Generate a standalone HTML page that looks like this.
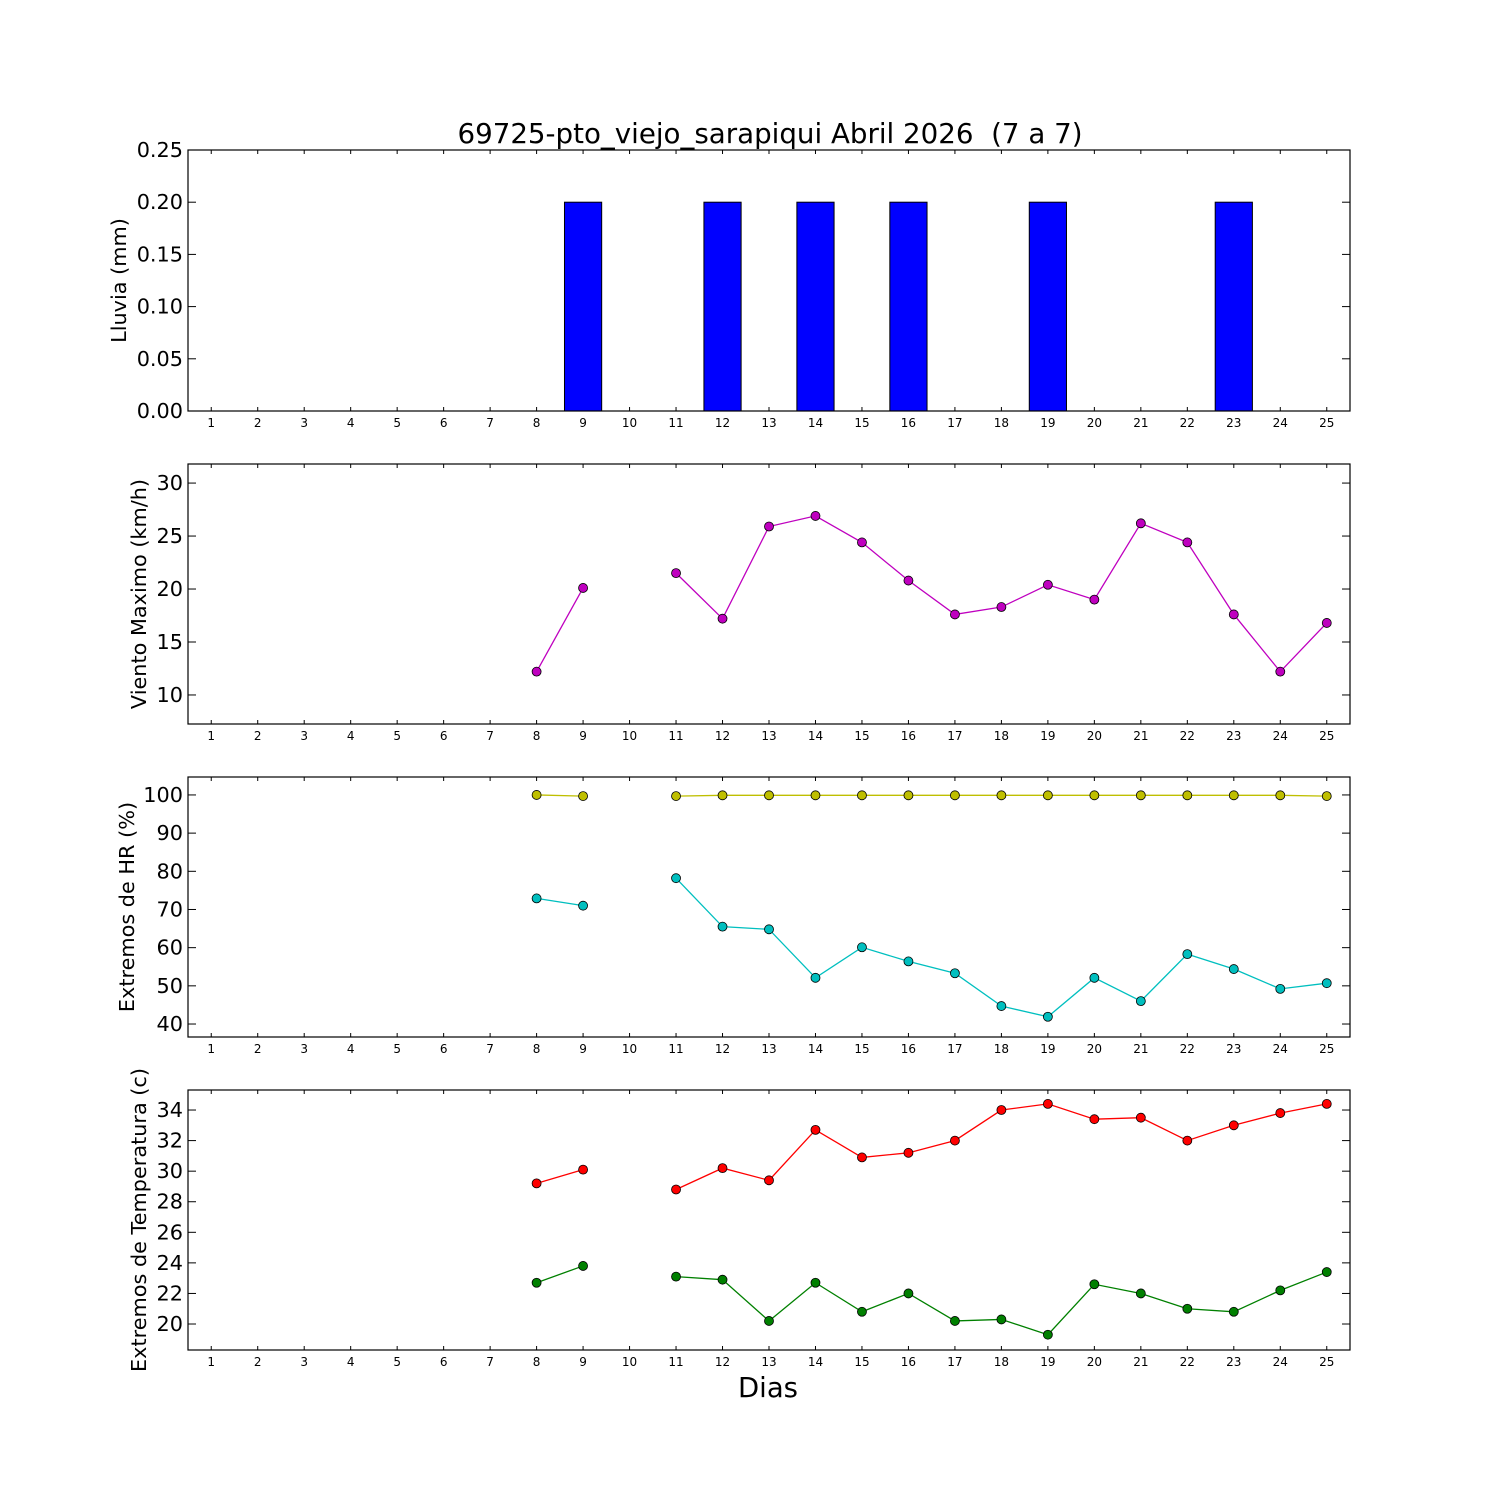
<!DOCTYPE html>
<html><head><meta charset="utf-8"><style>body{margin:0;background:#fff}svg{display:block}text{font-family:"DejaVu Sans","Liberation Sans",sans-serif}</style></head>
<body>
<svg id="c" width="1500" height="1500" xmlns="http://www.w3.org/2000/svg">
<rect width="1500" height="1500" fill="#fff"/>
<text x="770" y="143" font-size="27.7" text-anchor="middle" xml:space="preserve">69725-pto_viejo_sarapiqui Abril 2026  (7 a 7)</text>
<text x="768" y="1397" font-size="27.5" text-anchor="middle">Dias</text>
</svg>
<script>
const days=[1,2,3,4,5,6,7,8,9,10,11,12,13,14,15,16,17,18,19,20,21,22,23,24,25];
const rain=[0,0,0,0,0,0,0,0,0.2,null,0,0.2,0,0.2,0,0.2,0,0,0.2,0,0,0,0.2,0,0];
const wind=[null,null,null,null,null,null,null,12.2,20.1,null,21.5,17.2,25.9,26.9,24.4,20.8,17.6,18.3,20.4,19.0,26.2,24.4,17.6,12.2,16.8];
const hrMax=[null,null,null,null,null,null,null,100,99.7,null,99.7,99.9,99.9,99.9,99.9,99.9,99.9,99.9,99.9,99.9,99.9,99.9,99.9,99.9,99.7];
const hrMin=[null,null,null,null,null,null,null,72.9,71,null,78.2,65.5,64.8,52.1,60.1,56.4,53.3,44.7,41.9,52.1,46,58.3,54.4,49.2,50.7];
const tMax=[null,null,null,null,null,null,null,29.2,30.1,null,28.8,30.2,29.4,32.7,30.9,31.2,32.0,34.0,34.4,33.4,33.5,32.0,33.0,33.8,34.4];
const tMin=[null,null,null,null,null,null,null,22.7,23.8,null,23.1,22.9,20.2,22.7,20.8,22.0,20.2,20.3,19.3,22.6,22.0,21.0,20.8,22.2,23.4];
const rainTicks=["0.00","0.05","0.10","0.15","0.20","0.25"];
const windTicks=[10,15,20,25,30];
const hrTicks=[40,50,60,70,80,90,100];
const tTicks=[20,22,24,26,28,30,32,34];

const svg=document.getElementById('c');const NS='http://www.w3.org/2000/svg';
function el(t,a,p){const e=document.createElementNS(NS,t);for(const k in a)e.setAttribute(k,a[k]);(p||svg).appendChild(e);return e;}
const X0=188,X1=1350;
const xs=d=>X0+(d-0.5)/25*(X1-X0);
function panel(name,top,bot,ymin,ymax,ticks,ylabel,lx){
  const g=el('g',{});
  
  
  const ys=v=>bot-(v-ymin)/(ymax-ymin)*(bot-top);
  days.forEach(d=>{const x=xs(d);
    el('line',{x1:x,x2:x,y1:bot,y2:bot-4,stroke:'#000'},g);
    el('line',{x1:x,x2:x,y1:top,y2:top+4,stroke:'#000'},g);
    const t=el('text',{x:x,y:bot+16,'font-size':12,'text-anchor':'middle'},g);t.textContent=d;
    
    
  });
  ticks.forEach(v=>{const y=ys(+v);
    el('line',{x1:X0,x2:X0+8,y1:y,y2:y,stroke:'#000'},g);
    el('line',{x1:X1,x2:X1-8,y1:y,y2:y,stroke:'#000'},g);
    const t=el('text',{x:X0-5,y:y+7,'font-size':20.8,'text-anchor':'end'},g);t.textContent=v;
    
    
  });
  const cy=(top+bot)/2;
  const l=el('text',{x:lx,y:cy,'font-size':20.8,'text-anchor':'middle',transform:`rotate(-90 ${lx} ${cy})`},g);l.textContent=ylabel;
  
  
  return {g,ys,top,bot};
}
function series(p,vals,color,name){
  let seg=[];const segs=[];
  vals.forEach((v,i)=>{if(v==null){if(seg.length)segs.push(seg);seg=[];}else seg.push([xs(days[i]),p.ys(v)]);});
  if(seg.length)segs.push(seg);
  segs.forEach(s=>{const pl=el('polyline',{points:s.map(q=>q.join(',')).join(' '),fill:'none',stroke:color,'stroke-width':1.3},p.g);
    
    });
  vals.forEach((v,i)=>{if(v==null)return;const c=el('circle',{cx:xs(days[i]),cy:p.ys(v),r:4.5,fill:color,stroke:'#000','stroke-width':0.8},p.g);
    
    });
}
function frame(p){el('rect',{x:X0,y:p.top,width:X1-X0,height:p.bot-p.top,fill:'none',stroke:'#000','stroke-width':1.2},p.g);}

const p1=panel('rain',150,411,0,0.25,rainTicks,'Lluvia (mm)',126);
rain.forEach((v,i)=>{if(v==null)return;const x=xs(days[i]);const y=p1.ys(v);
  const b=el('rect',{x:x-18.6,y:y,width:37.2,height:p1.bot-y,fill:'#0000ff',stroke:'#000','stroke-width':1},p1.g);
  
  });
frame(p1);
const p2=panel('wind',464,724,7.26,31.8,windTicks,'Viento Maximo (km/h)',146);
series(p2,wind,'#bf00bf','wind-max');frame(p2);
const p3=panel('humidity',777,1037,36.6,104.7,hrTicks,'Extremos de HR (%)',134);
series(p3,hrMax,'#bfbf00','hr-max');series(p3,hrMin,'#00bfbf','hr-min');frame(p3);
const p4=panel('temperature',1090,1350,18.3,35.31,tTicks,'Extremos de Temperatura (c)',146);
series(p4,tMax,'#ff0000','temp-max');series(p4,tMin,'#008000','temp-min');frame(p4);
</script>
</body></html>
